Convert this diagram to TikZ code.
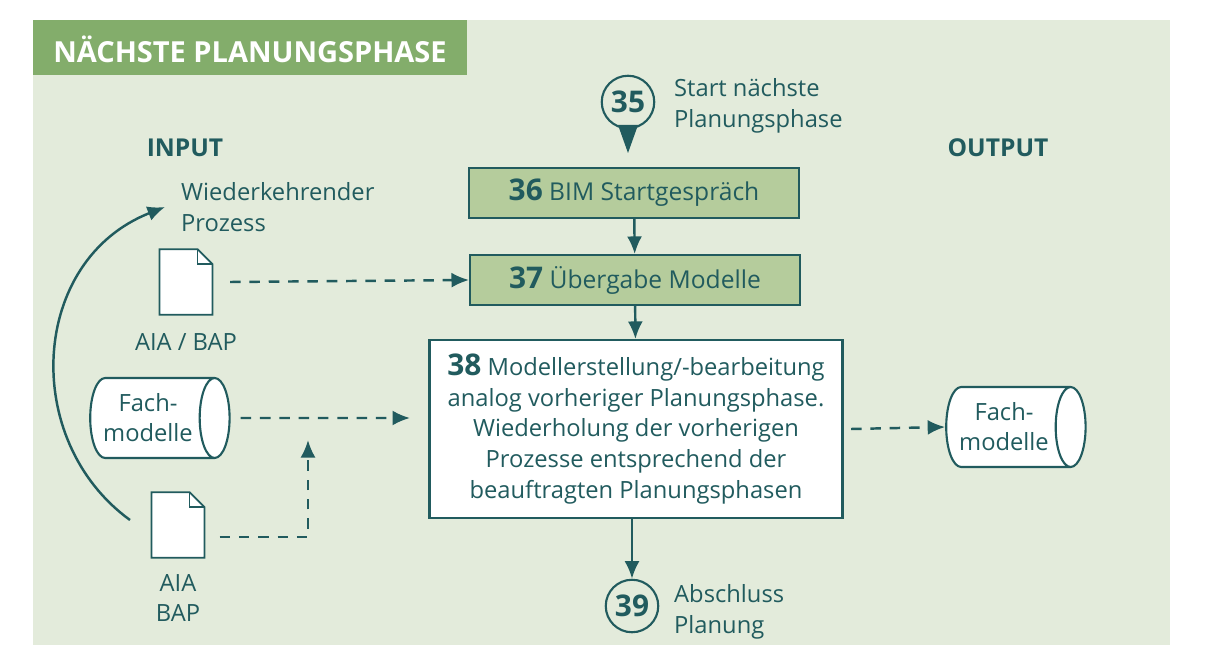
\documentclass[tikz,border=0pt]{standalone}
\usepackage{fontspec}
\setmainfont{Open Sans}
\usetikzlibrary{positioning,shapes.geometric,calc,arrows.meta}
\definecolor{bggreen}{HTML}{E3EBDB}
\definecolor{titlegreen}{HTML}{83AD6B}
\definecolor{boxgreen}{HTML}{B5CC9C}
\definecolor{teal}{HTML}{215B5E}
\tikzset{
  stepbox/.style={draw=teal, line width=1.2pt, fill=boxgreen, minimum width=6.6cm, minimum height=1cm, font=\fontsize{14}{17}\selectfont, text=teal},
  numcircle/.style={circle, draw=teal, line width=1.2pt, fill=bggreen, minimum size=1.05cm, inner sep=0pt, font=\bfseries\fontsize{17}{20}\selectfont, text=teal},
  lbl/.style={align=left, anchor=west, text=teal, font=\fontsize{13.5}{17.5}\selectfont},
  head/.style={text=teal, font=\bfseries\fontsize{14}{17}\selectfont},
  store/.style={cylinder, draw=teal, line width=1.2pt, fill=white, shape aspect=0.5, minimum width=1.6cm, minimum height=2.55cm, align=center, text=teal, font=\fontsize{13.5}{17}\selectfont},
  docnode/.style={minimum width=1.05cm, minimum height=1.3cm, inner sep=0pt},
  flow/.style={-{Latex[length=3.5mm,width=3mm]}, line width=1.4pt, teal},
  dflow/.style={flow, dash pattern=on 6pt off 5pt}
}
\newcommand{\docicon}[1]{%
  \draw[teal, line width=1pt, fill=white] (#1.north west) -- ($(#1.north east)+(-0.3cm,0cm)$) -- ($(#1.north east)+(0cm,-0.3cm)$) -- (#1.south east) -- (#1.south west) -- cycle;
  \draw[teal, line width=1pt] ($(#1.north east)+(-0.3cm,0cm)$) |- ($(#1.north east)+(0cm,-0.3cm)$);
}
\begin{document}
\begin{tikzpicture}[x=0.02cm, y=-0.02cm]
  \useasboundingbox (0,0) rectangle (1206,645);
  \fill[bggreen] (33,20) rectangle (1170,645);
  \fill[titlegreen] (33,20) rectangle (467,75);
  \node[text=white, font=\bfseries\fontsize{16.5}{20}\selectfont] (title) at (250,49) {NÄCHSTE PLANUNGSPHASE};

  % heads
  \node[head] (in) at (185,148) {INPUT};
  \node[head] (out) at (998,148) {OUTPUT};

  % main column
  \node[numcircle] (c35) at (628,102) {35};
  \coordinate (tip) at (628,153);
  \fill[teal] ($(c35)+(-0.2cm,-0.46cm)$) -- ($(c35)+(0.2cm,-0.46cm)$) -- (tip) -- cycle;
  \node[lbl] (l35) at (668,106) {Start nächste\\Planungsphase};

  \node[stepbox] (s36) at (634,193) {\textbf{\fontsize{17}{20}\selectfont 36} BIM Startgespräch};
  \node[stepbox] (s37) at (635,280) {\textbf{\fontsize{17}{20}\selectfont 37} Übergabe Modelle};
  \node[draw=teal, line width=1.2pt, fill=white, minimum width=8.26cm, minimum height=3.56cm, align=center, text=teal, font=\fontsize{13.5}{17.5}\selectfont] (s38) at (636,429)
    {\textbf{\fontsize{17}{20}\selectfont 38} Modellerstellung/-bearbeitung\\analog vorheriger Planungsphase.\\Wiederholung der vorherigen\\Prozesse entsprechend der\\beauftragten Planungsphasen};
  \node[numcircle] (c39) at (632,606) {39};
  \node[lbl] (l39) at (668,612) {Abschluss\\Planung};

  \draw[flow] (s36) -- (s37);
  \draw[flow] (s37) -- (s38);
  \draw[flow] (s38.south -| c39) -- (c39);

  % inputs
  \node[lbl] (rep) at (175,207) {Wiederkehrender\\Prozess};
  \node[docnode] (doc1) at (186,282) {};
  \docicon{doc1}
  \node[text=teal, font=\fontsize{13.5}{17}\selectfont, below=0.25cm of doc1] (ldoc1) {AIA / BAP};
  \node[store] (fm1) at (148,418) {Fach-\\modelle};
  \node[docnode] (doc2) at (178,525) {};
  \docicon{doc2}
  \node[text=teal, align=center, font=\fontsize{13.5}{17.5}\selectfont, below=0.2cm of doc2] (ldoc2) {AIA\\BAP};
  \coordinate (join) at (308,537);

  \draw[dflow] ($(doc1.east)+(0.35cm,0cm)$) -- (s37.west);
  \draw[dflow] ($(fm1.east)+(0.2cm,0cm)$) -- (410,418);
  \draw[dflow] ($(doc2.east |- join)+(0.3cm,0cm)$) -- (join) -- (308,440);
  \draw[flow] (130,520) .. controls (20,440) and (30,260) .. ($(rep.west)+(-0.2cm,0cm)$);

  % output
  \node[store] (fm2) at (1004,427) {Fach-\\modelle};
  \draw[dflow] ($(s38.east)+(0.15cm,0cm)$) -- (fm2.west);
\end{tikzpicture}
\end{document}
